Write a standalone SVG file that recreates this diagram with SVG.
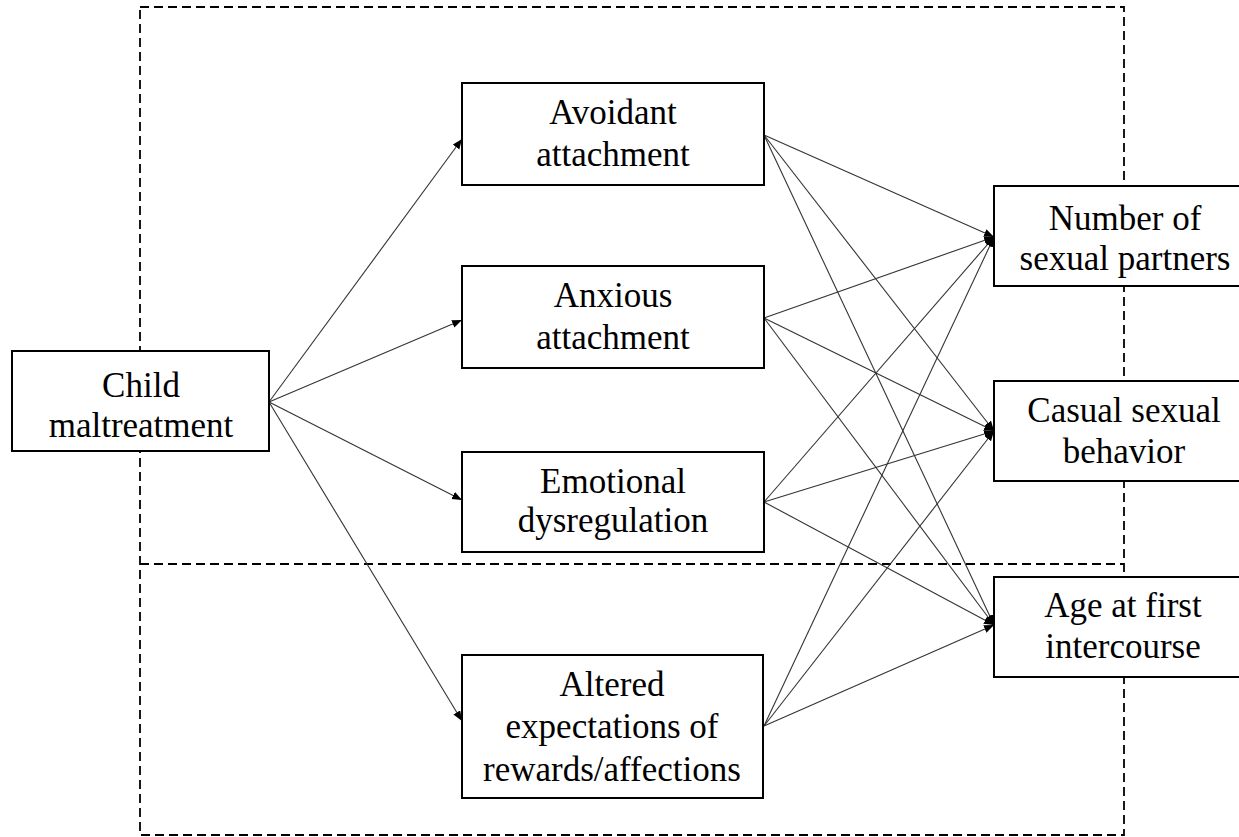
<svg xmlns="http://www.w3.org/2000/svg" width="1239" height="837" viewBox="0 0 1239 837">
  <style>
    .frame { fill: none; stroke: #000; stroke-width: 1.8; stroke-dasharray: 9 5; }
    .box { fill: #fff; stroke: #000; stroke-width: 2; }
    .lbl { font-family: "Liberation Serif", "Times New Roman", serif; font-size: 35px; fill: #000; text-anchor: middle; }
    .edge { fill: none; stroke: #333; stroke-width: 1.1; marker-end: url(#arrow); }
  </style>
  <defs>
    <marker id="arrow" markerUnits="userSpaceOnUse" markerWidth="11" markerHeight="9" refX="10" refY="4" orient="auto">
      <path d="M0,0 L10,4 L0,8 z" fill="#000"/>
    </marker>
  </defs>
  <rect width="1239" height="837" fill="#fff"/>

  <!-- dashed grouping frames -->
  <g id="frames">
    <rect class="frame" x="140" y="7" width="984" height="828"/>
    <line class="frame" x1="140" y1="564" x2="1124" y2="564"/>
  </g>

  <!-- connectors -->
  <g id="connectors">
    <line class="edge" x1="269" y1="402" x2="462" y2="139"/>
    <line class="edge" x1="269" y1="402" x2="462" y2="320"/>
    <line class="edge" x1="269" y1="402" x2="462" y2="500"/>
    <line class="edge" x1="269" y1="402" x2="462" y2="721"/>

    <line class="edge" x1="764" y1="135" x2="994" y2="237"/>
    <line class="edge" x1="764" y1="135" x2="994" y2="431"/>
    <line class="edge" x1="764" y1="135" x2="994" y2="625"/>

    <line class="edge" x1="764" y1="318" x2="994" y2="237"/>
    <line class="edge" x1="764" y1="318" x2="994" y2="431"/>
    <line class="edge" x1="764" y1="318" x2="994" y2="625"/>

    <line class="edge" x1="764" y1="502" x2="994" y2="237"/>
    <line class="edge" x1="764" y1="502" x2="994" y2="431"/>
    <line class="edge" x1="764" y1="502" x2="994" y2="625"/>

    <line class="edge" x1="764" y1="726" x2="994" y2="237"/>
    <line class="edge" x1="764" y1="726" x2="994" y2="431"/>
    <line class="edge" x1="764" y1="726" x2="994" y2="625"/>
  </g>

  <!-- nodes -->
  <g id="child-maltreatment">
    <rect class="box" x="12" y="351" width="257" height="100"/>
    <text class="lbl" x="141" y="397">Child</text>
    <text class="lbl" x="141" y="437">maltreatment</text>
  </g>

  <g id="avoidant-attachment">
    <rect class="box" x="462" y="83" width="302" height="102"/>
    <text class="lbl" x="613" y="124">Avoidant</text>
    <text class="lbl" x="613" y="166">attachment</text>
  </g>

  <g id="anxious-attachment">
    <rect class="box" x="462" y="266" width="302" height="102"/>
    <text class="lbl" x="613" y="307">Anxious</text>
    <text class="lbl" x="613" y="349">attachment</text>
  </g>

  <g id="emotional-dysregulation">
    <rect class="box" x="462" y="452" width="302" height="100"/>
    <text class="lbl" x="613" y="493">Emotional</text>
    <text class="lbl" x="613" y="532">dysregulation</text>
  </g>

  <g id="altered-expectations">
    <rect class="box" x="462" y="655" width="301" height="143"/>
    <text class="lbl" x="612" y="696">Altered</text>
    <text class="lbl" x="612" y="738">expectations of</text>
    <text class="lbl" x="612" y="781">rewards/affections</text>
  </g>

  <g id="number-of-partners">
    <rect class="box" x="994" y="186" width="262" height="100"/>
    <text class="lbl" x="1125" y="230">Number of</text>
    <text class="lbl" x="1125" y="270">sexual partners</text>
  </g>

  <g id="casual-sexual-behavior">
    <rect class="box" x="994" y="381" width="262" height="100"/>
    <text class="lbl" x="1124" y="422">Casual sexual</text>
    <text class="lbl" x="1124" y="463">behavior</text>
  </g>

  <g id="age-first-intercourse">
    <rect class="box" x="994" y="577" width="262" height="100"/>
    <text class="lbl" x="1123" y="617">Age at first</text>
    <text class="lbl" x="1123" y="658">intercourse</text>
  </g>
</svg>
